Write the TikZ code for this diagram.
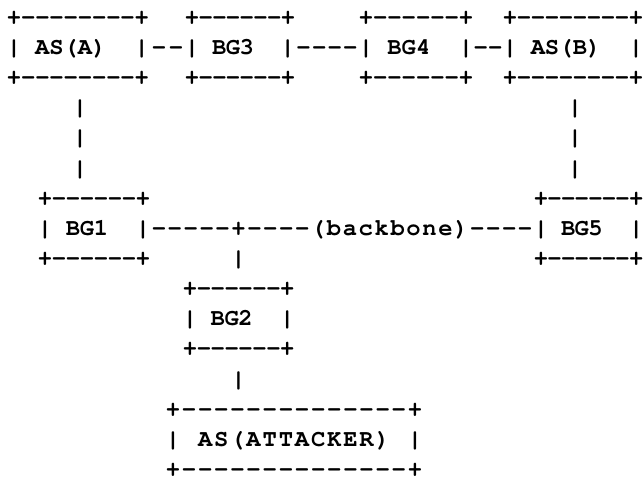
\documentclass[tikz,border=0pt]{standalone}
\usepackage[T1]{fontenc}
\usepackage{courier}
\newcommand\blank{\hphantom{x}}
% set each character of #2 centred in a cell #1pt wide
\makeatletter
\def\spr@end{spr@end}
\newcommand\spread[2]{\def\spr@w{#1pt}\spr@loop#2\spr@end}
\def\spr@loop#1{\ifx#1\spr@end\else\makebox[\spr@w]{#1}\expandafter\spr@loop\fi}
\makeatother
% one text segment: name, x of first character centre, row, cell width, text
\newcommand\seg[5]{\node[asc] (#1) at ({#2-#4/2},{-(24.3+30.15*#3)}) {\spread{#4}{#5}};}
\begin{document}
\begin{tikzpicture}[x=1pt,y=1pt]
\tikzset{asc/.style={inner sep=0pt, outer sep=0pt, anchor=base west,
  font=\fontsize{23.83pt}{30pt}\selectfont\ttfamily\bfseries}}
\useasboundingbox (0,0) rectangle (643,-477);
% top row of boxes
\seg{asAtop}{14}{0}{14.2}{+--------+}
\seg{asA}{14}{1}{14.2}{|\blank AS(A)\blank\blank|}
\seg{asAbot}{14}{2}{14.2}{+--------+}
\seg{bgthreetop}{192}{0}{13.7}{+------+}
\seg{bgthree}{192}{1}{13.7}{|\blank BG3\blank\blank|}
\seg{bgthreebot}{192}{2}{13.7}{+------+}
\seg{bgfourtop}{366}{0}{14.3}{+------+}
\seg{bgfour}{366}{1}{14.3}{|\blank BG4\blank\blank|}
\seg{bgfourbot}{366}{2}{14.3}{+------+}
\seg{asBtop}{510}{0}{14.0}{+--------+}
\seg{asB}{510}{1}{14.0}{|\blank AS(B)\blank\blank|}
\seg{asBbot}{510}{2}{14.0}{+--------+}
% links between the top boxes
\seg{linkAthree}{159}{1}{17}{--}
\seg{linkthreefour}{303.6}{1}{15.6}{----}
\seg{linkfourB}{480.7}{1}{14.7}{--}
% drops to BG1 and BG5
\seg{dropAa}{80}{3}{14.3}{|}
\seg{dropAb}{80}{4}{14.3}{|}
\seg{dropAc}{80}{5}{14.3}{|}
\seg{dropBa}{575}{3}{14.3}{|}
\seg{dropBb}{575}{4}{14.3}{|}
\seg{dropBc}{575}{5}{14.3}{|}
% backbone row
\seg{bgonetop}{45}{6}{14.0}{+------+}
\seg{bgone}{45}{7}{14.0}{|\blank BG1\blank\blank|}
\seg{bgonebot}{45}{8}{14.0}{+------+}
\seg{bgfivetop}{541}{6}{13.6}{+------+}
\seg{bgfive}{541}{7}{13.6}{|\blank BG5\blank\blank|}
\seg{bgfivebot}{541}{8}{13.6}{+------+}
\seg{backbone}{158.92}{7}{15.92}{-----+----(backbone)----}
\seg{dropJ}{238.5}{8}{14.3}{|}
% BG2 and the attacker
\seg{bgtwotop}{190}{9}{13.9}{+------+}
\seg{bgtwo}{190}{10}{13.9}{|\blank BG2\blank\blank|}
\seg{bgtwobot}{190}{11}{13.9}{+------+}
\seg{dropT}{238.5}{12}{14.3}{|}
\seg{atttop}{173}{13}{16.13}{+--------------+}
\seg{att}{173}{14}{16.13}{|\blank AS(ATTACKER)\blank|}
\seg{attbot}{173}{15}{16.13}{+--------------+}
\end{tikzpicture}
\end{document}
